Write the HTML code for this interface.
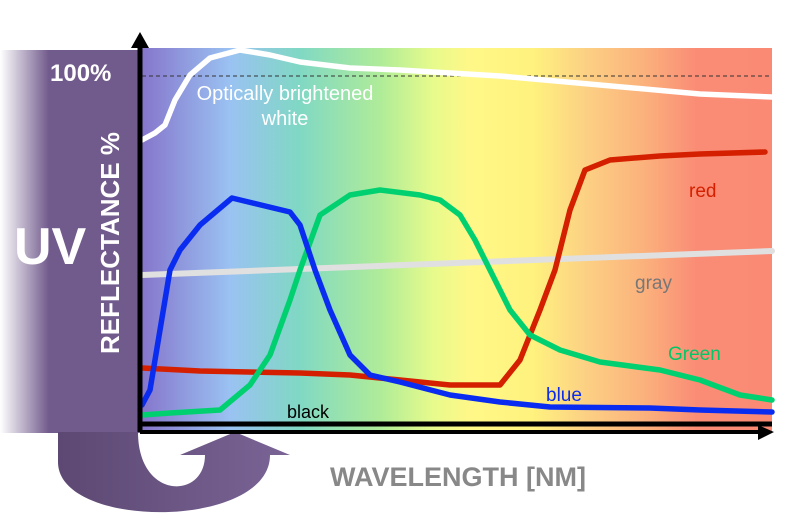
<!DOCTYPE html>
<html><head><meta charset="utf-8"><style>
body{margin:0;background:#fff;}
svg{display:block;font-family:"Liberation Sans",sans-serif;}
</style></head><body>
<svg width="800" height="522" viewBox="0 0 800 522">
<defs>
<linearGradient id="spec" x1="142" x2="772" y1="0" y2="0" gradientUnits="userSpaceOnUse">
<stop offset="0" stop-color="#8676cc"/>
<stop offset="0.14" stop-color="#9ac2f2"/>
<stop offset="0.25" stop-color="#80d8c4"/>
<stop offset="0.38" stop-color="#b0ec98"/>
<stop offset="0.46" stop-color="#e6fa8c"/>
<stop offset="0.52" stop-color="#fff888"/>
<stop offset="0.62" stop-color="#fff27e"/>
<stop offset="0.70" stop-color="#fcd284"/>
<stop offset="0.80" stop-color="#fbb07c"/>
<stop offset="0.88" stop-color="#fa8c76"/>
<stop offset="1" stop-color="#fa8a74"/>
</linearGradient>
<linearGradient id="uvg" x1="0" x2="140" y1="0" y2="0" gradientUnits="userSpaceOnUse">
<stop offset="0" stop-color="#715a8c" stop-opacity="0"/>
<stop offset="0.35" stop-color="#715a8c"/>
<stop offset="1" stop-color="#715a8c"/>
</linearGradient>
<linearGradient id="arr" x1="58" x2="290" y1="0" y2="0" gradientUnits="userSpaceOnUse">
<stop offset="0" stop-color="#5c4872"/>
<stop offset="1" stop-color="#7a6496"/>
</linearGradient>
</defs>
<rect x="0" y="50" width="140" height="383" fill="url(#uvg)"/>
<rect x="142" y="48" width="630" height="385" fill="url(#spec)"/>
<path d="M58,432 L58,462 C58,530 270,530 270,455 L290,455 L235,432 L180,455 L205,455 C205,500 138,500 138,432 Z" fill="url(#arr)"/>
<line x1="142" y1="76" x2="772" y2="76" stroke="#333" stroke-width="1" stroke-dasharray="4,3"/>
<g fill="none" stroke-linejoin="round" stroke-linecap="round" stroke-width="5.5">
<polyline stroke="#fff" points="142,140 155,133 165,125 175,100 190,75 210,58 240,50 270,55 300,62 350,68 400,70 500,76 600,85 700,94 772,97"/>
<line x1="142" y1="275" x2="772" y2="251" stroke="#e0e0e0" stroke-width="6"/>
<polyline stroke="#d42000" points="142,368 200,371 300,373 350,375 400,380 450,385 500,385 520,360 540,310 555,270 570,210 585,170 610,160 660,156 700,154 765,152"/>
<polyline stroke="#00d070" points="142,415 170,413 220,410 250,385 270,355 290,300 300,270 320,215 350,195 380,190 420,195 440,200 460,215 475,240 490,270 510,310 530,335 560,350 600,362 660,370 700,380 740,395 772,400"/>
<polyline stroke="#0a2cf0" points="142,405 150,390 160,330 170,270 180,250 200,225 232,198 290,212 300,225 315,270 330,310 350,355 370,375 400,382 450,395 500,402 550,407 650,408 700,410 772,412"/>
</g>
<line x1="140" y1="432" x2="140" y2="45" stroke="#000" stroke-width="5"/>
<polygon points="131,48 149,48 140,32" fill="#000"/>
<line x1="140" y1="424" x2="772" y2="424" stroke="#000" stroke-width="5"/>
<line x1="140" y1="432" x2="760" y2="432" stroke="#000" stroke-width="4"/>
<polygon points="758,425 758,440 774,432" fill="#000"/>
<text x="50" y="81" fill="#fff" font-size="24" font-weight="bold">100%</text>
<text x="14" y="264" fill="#fff" font-size="52" font-weight="bold">UV</text>
<text transform="translate(119,243) rotate(-90)" text-anchor="middle" fill="#fff" font-size="26" font-weight="bold">REFLECTANCE %</text>
<text x="285" y="100" text-anchor="middle" fill="#fff" font-size="20">Optically brightened</text>
<text x="285" y="125" text-anchor="middle" fill="#fff" font-size="20">white</text>
<text x="689" y="197" fill="#d42000" font-size="19">red</text>
<text x="635" y="289" fill="#777" font-size="19">gray</text>
<text x="668" y="360" fill="#00c866" font-size="19">Green</text>
<text x="546" y="401" fill="#0a2cf0" font-size="19">blue</text>
<text x="287" y="418" fill="#000" font-size="18">black</text>
<text x="330" y="486" fill="#888" font-size="27" font-weight="bold">WAVELENGTH [NM]</text>
</svg>
</body></html>
